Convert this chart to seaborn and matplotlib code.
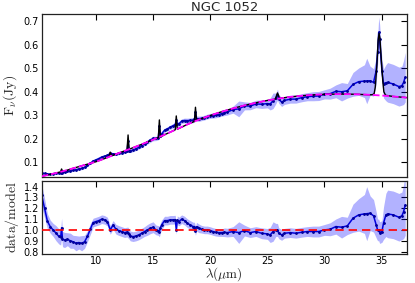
import numpy as np
import pandas as pd
import matplotlib
matplotlib.use("Agg")
import matplotlib.pyplot as plt
import seaborn as sns

# ---------------- data ----------------
wavelength = [5.25, 5.50, 5.75, 6.00, 6.25, 6.50, 6.75, 6.91, 6.99, 7.07,
              7.25, 7.50, 7.75, 8.00, 8.25, 8.50, 8.75, 9.00, 9.25, 9.50,
              9.75, 10.00, 10.25, 10.50, 10.75, 11.00, 11.25, 11.50, 11.75, 12.00,
              12.25, 12.50, 12.72, 12.81, 12.90, 13.00, 13.25, 13.50, 13.75, 14.00,
              14.25, 14.50, 14.75, 15.00, 15.25, 15.46, 15.55, 15.64, 15.75, 16.00,
              16.25, 16.50, 16.75, 16.94, 17.03, 17.12, 17.25, 17.50, 17.75, 18.00,
              18.25, 18.50, 18.62, 18.71, 18.80, 19.00, 19.25, 19.50, 19.75, 20.00,
              20.25, 20.50, 20.75, 21.00, 21.25, 21.50, 22.00, 22.50, 23.00, 23.50,
              24.00, 24.50, 25.00, 25.25, 25.50, 25.75, 25.89, 26.00, 26.25, 26.50,
              27.00, 27.50, 28.00, 28.50, 29.00, 29.50, 30.00, 30.50, 31.00, 31.50,
              32.00, 32.50, 33.00, 33.50, 33.70, 34.00, 34.30, 34.53, 34.65, 34.75,
              34.83, 35.03, 35.17, 35.38, 35.53, 36.02, 36.52, 36.78, 36.93, 37.07]

flux = [0.053, 0.052, 0.049, 0.049, 0.051, 0.052, 0.054, 0.0555, 0.064, 0.056,
        0.057, 0.061, 0.063, 0.066, 0.068, 0.0715, 0.074, 0.078, 0.086, 0.0956,
        0.105, 0.110, 0.1157, 0.122, 0.126, 0.129, 0.138, 0.1355, 0.135, 0.138,
        0.141, 0.144, 0.149, 0.190, 0.148, 0.148, 0.152, 0.157, 0.163, 0.1705,
        0.178, 0.186, 0.194, 0.201, 0.201, 0.205, 0.255, 0.211, 0.221, 0.236,
        0.2416, 0.249, 0.255, 0.2605, 0.280, 0.262, 0.263, 0.275, 0.2775, 0.277,
        0.278, 0.279, 0.282, 0.315, 0.286, 0.285, 0.287, 0.290, 0.2945, 0.297,
        0.2985, 0.300, 0.303, 0.307, 0.3115, 0.314, 0.324, 0.327, 0.340, 0.339,
        0.348, 0.347, 0.3495, 0.348, 0.3615, 0.372, 0.388, 0.370, 0.356, 0.363,
        0.3685, 0.3687, 0.3746, 0.379, 0.381, 0.382, 0.389, 0.392, 0.402, 0.400,
        0.404, 0.4316, 0.443, 0.4454, 0.446, 0.4466, 0.440, 0.490, 0.570, 0.653,
        0.624, 0.490, 0.435, 0.4385, 0.440, 0.433, 0.422, 0.426, 0.440, 0.462]

ratio = [1.32, 1.20, 1.08, 1.03, 1.00, 0.97, 0.94, 0.93, 1.02, 0.915,
         0.907, 0.914, 0.90, 0.89, 0.877, 0.883, 0.877, 0.89, 0.94, 1.006,
         1.068, 1.077, 1.086, 1.099, 1.093, 1.077, 1.00, 1.046, 1.006, 0.994,
         0.985, 0.975, 0.98, 0.975, 0.96, 0.944, 0.938, 0.944, 0.954, 0.969,
         0.985, 1.0, 1.015, 1.025, 1.0, 0.994, 0.985, 1.02, 1.046, 1.086,
         1.086, 1.093, 1.093, 1.095, 1.00, 1.09, 1.077, 1.099, 1.086, 1.062,
         1.046, 1.031, 1.031, 0.99, 1.03, 1.015, 1.006, 1.0, 1.0, 0.994,
         0.985, 0.978, 0.975, 0.975, 0.978, 0.975, 0.985, 0.975, 0.994, 0.975,
         0.985, 0.969, 0.963, 0.954, 0.985, 1.0, 1.0, 0.969, 0.954, 0.969,
         0.975, 0.969, 0.978, 0.985, 0.985, 0.985, 1.0, 1.006, 1.031, 1.025,
         1.037, 1.108, 1.139, 1.148, 1.15, 1.154, 1.13, 1.046, 1.0, 1.0,
         0.975, 0.985, 1.062, 1.139, 1.148, 1.139, 1.117, 1.13, 1.17, 1.23]

ratio_err = [0.10, 0.09, 0.07, 0.06, 0.06, 0.07, 0.07, 0.07, 0.09, 0.07,
             0.07, 0.06, 0.07, 0.06, 0.07, 0.06, 0.07, 0.06, 0.05, 0.05,
             0.04, 0.04, 0.04, 0.04, 0.04, 0.04, 0.04, 0.04, 0.045, 0.045,
             0.045, 0.045, 0.045, 0.05, 0.045, 0.045, 0.045, 0.045, 0.045, 0.045,
             0.045, 0.05, 0.05, 0.05, 0.045, 0.045, 0.05, 0.045, 0.045, 0.04,
             0.04, 0.04, 0.04, 0.04, 0.04, 0.04, 0.04, 0.04, 0.04, 0.04,
             0.04, 0.04, 0.04, 0.04, 0.04, 0.04, 0.035, 0.035, 0.035, 0.035,
             0.035, 0.035, 0.035, 0.035, 0.04, 0.04, 0.045, 0.10, 0.05, 0.045,
             0.045, 0.05, 0.05, 0.07, 0.09, 0.06, 0.06, 0.05, 0.05, 0.045,
             0.045, 0.045, 0.045, 0.045, 0.05, 0.05, 0.05, 0.06, 0.07, 0.10,
             0.08, 0.13, 0.15, 0.18, 0.25, 0.16, 0.15, 0.12, 0.10, 0.10,
             0.10, 0.10, 0.15, 0.20, 0.22, 0.22, 0.22, 0.22, 0.25, 0.28]

# model continuum (magenta)
cont_wl = [5.25, 6, 7, 8, 9, 10, 11, 12, 13, 14, 15, 16, 17, 18, 19, 20, 21,
           22, 23, 24, 25, 26, 27, 28, 29, 30, 31, 32, 33, 34, 35, 36, 37, 37.2]
cont_flux = [0.040, 0.048, 0.060, 0.074, 0.088, 0.102, 0.120, 0.139, 0.157,
             0.176, 0.196, 0.217, 0.239, 0.261, 0.281, 0.299, 0.315, 0.329,
             0.342, 0.353, 0.363, 0.371, 0.378, 0.383, 0.387, 0.389, 0.390,
             0.390, 0.389, 0.387, 0.384, 0.380, 0.376, 0.375]

# full model with emission lines (black)
model_wl = [5.25, 6, 6.90, 6.99, 7.08, 8, 9, 10, 11, 11.12, 11.25, 11.38, 12,
            12.72, 12.81, 12.90, 13, 14, 15, 15.46, 15.55, 15.64, 16,
            16.94, 17.03, 17.12, 18, 18.62, 18.71, 18.80, 19, 20, 21, 22, 23,
            24, 25, 25.70, 25.89, 26.08, 27, 28, 29, 30, 31, 32, 33, 34, 34.2,
            34.35, 34.45, 34.6, 34.7, 34.78, 34.85, 35.0, 35.1, 35.2, 35.35,
            36, 37, 37.2]
model_flux = [0.040, 0.048, 0.0588, 0.071, 0.0600, 0.074, 0.088, 0.102, 0.120,
              0.1223, 0.1428, 0.1272, 0.139, 0.152, 0.216, 0.1535, 0.157, 0.176,
              0.196, 0.205, 0.280, 0.207, 0.217, 0.238, 0.297, 0.2405, 0.261,
              0.2735, 0.334, 0.2775, 0.281, 0.299, 0.315, 0.329, 0.342, 0.353,
              0.363, 0.369, 0.395, 0.372, 0.378, 0.383, 0.387, 0.389, 0.390,
              0.390, 0.389, 0.387, 0.3876, 0.392, 0.420, 0.520, 0.620, 0.648,
              0.630, 0.520, 0.450, 0.400, 0.385, 0.380, 0.376, 0.375]

x_ticks = [10, 15, 20, 25, 30, 35]
top_yticks = [0.1, 0.2, 0.3, 0.4, 0.5, 0.6, 0.7]
bot_yticks = [0.8, 0.9, 1.0, 1.1, 1.2, 1.3, 1.4]

# ---------------- styling ----------------
sns.set_style("white")
plt.rcParams["font.family"] = ["DejaVu Sans"]
plt.rcParams["mathtext.fontset"] = "cm"

df = pd.DataFrame({"wl": wavelength, "flux": flux, "ratio": ratio, "err": ratio_err})
df["rel"] = df["err"] / df["ratio"]
df_cont = pd.DataFrame({"wl": cont_wl, "flux": cont_flux})
df_model = pd.DataFrame({"wl": model_wl, "flux": model_flux})

fig = plt.figure(figsize=(4.15, 2.83), dpi=100)
ax1 = fig.add_axes([0.1005, 0.3746, 0.8795, 0.5749])
ax2 = fig.add_axes([0.1005, 0.1035, 0.8795, 0.2580])

blue = "#0000dd"
band = "#0000ff"
mk = dict(marker=".", markersize=2.5, markeredgecolor="#000099", markerfacecolor="#000099")

# top panel
ax1.fill_between(df["wl"], df["flux"] * (1 - df["rel"]), df["flux"] * (1 + df["rel"]),
                 color=band, alpha=0.3, lw=0, zorder=1)
sns.lineplot(data=df, x="wl", y="flux", ax=ax1, color=blue, lw=1.1,
             sort=False, estimator=None, zorder=2, **mk)
sns.lineplot(data=df_model, x="wl", y="flux", ax=ax1, color="black", lw=1.0,
             sort=False, estimator=None, zorder=3)
sns.lineplot(data=df_cont, x="wl", y="flux", ax=ax1, color="magenta", lw=1.3,
             linestyle="--", sort=False, estimator=None, zorder=4)

# bottom panel
ax2.fill_between(df["wl"], df["ratio"] - df["err"], df["ratio"] + df["err"],
                 color=band, alpha=0.3, lw=0, zorder=1)
sns.lineplot(data=df, x="wl", y="ratio", ax=ax2, color=blue, lw=1.1,
             sort=False, estimator=None, zorder=2, **mk)
ax2.axhline(1.0, color="red", lw=1.2, linestyle="--", dashes=(5, 3), zorder=4)

for ax in (ax1, ax2):
    ax.set_xlim(5.25, 37.2)
    ax.set_xticks(x_ticks)
    ax.tick_params(direction="in", top=True, right=True, length=4, width=0.8,
                   labelsize=7, pad=2, colors="black")
    for s in ax.spines.values():
        s.set_color("#222222")
        s.set_linewidth(0.9)

ax1.set_ylim(0.037, 0.73)
ax1.set_yticks(top_yticks)
ax1.set_yticklabels([f"{v:.1f}" for v in top_yticks])
ax1.tick_params(labelbottom=False)
ax1.set_xlabel("")
ax1.set_ylabel(r"$\mathrm{F}_{\nu}\mathrm{(Jy)}$", fontsize=10, labelpad=3)
ax1.set_title("NGC 1052", fontsize=9.5, pad=2)

ax2.set_ylim(0.78, 1.455)
ax2.set_yticks(bot_yticks)
ax2.set_yticklabels([f"{v:.1f}" for v in bot_yticks])
ax2.set_xticklabels([str(v) for v in x_ticks])
ax2.set_ylabel(r"$\mathrm{data/model}$", fontsize=10, labelpad=2)
ax2.set_xlabel(r"$\lambda(\mu\mathrm{m})$", fontsize=9.5, labelpad=-1)

fig.savefig("out.png", dpi=100)
